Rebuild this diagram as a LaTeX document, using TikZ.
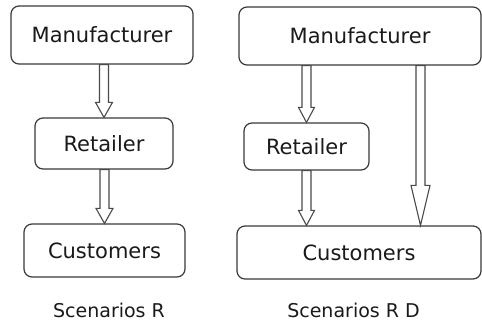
\documentclass[tikz,border=0pt]{standalone}
\usepackage{fontspec}
\setmainfont{DejaVu Sans}
\usetikzlibrary{calc}
\definecolor{boxline}{HTML}{3A3A3A}
\definecolor{arrline}{HTML}{4A4A4A}
\definecolor{txt}{HTML}{1A1A1A}
\begin{document}
\begin{tikzpicture}[x=1pt,y=-1pt,
  box/.style={draw=boxline,line width=1.2pt,rounded corners=8pt,fill=white,
    inner sep=0pt,text=txt,font=\fontsize{21}{24}\selectfont},
  caption/.style={inner sep=0pt,text=txt,font=\fontsize{19}{22}\selectfont},
  harrow/.style n args={3}{draw=arrline,line width=1.1pt,fill=white,line join=miter,
    to path={let \p1=(\tikztostart),\p2=(\tikztotarget) in
      (\x2-#1,\y1) -- (\x2-#1,\y2+#3) -- (\x2-#2,\y2+#3) -- (\x2,\y2)
      -- (\x2+#2,\y2+#3) -- (\x2+#1,\y2+#3) -- (\x2+#1,\y1) -- cycle}}]
\useasboundingbox (0,0) rectangle (482,325);
\fill[white] (0,0) rectangle (482,325);
% left scenario
\node[box,minimum width=182pt,minimum height=58pt] (m1) at (102,35) {Manufacturer};
\node[box,minimum width=138pt,minimum height=51pt] (r1) at (104,143.5) {Retailer};
\node[box,minimum width=161pt,minimum height=53pt] (c1) at (104.5,250.5) {Customers};
\node[caption] (s1) at (109,310) {Scenarios R};
% right scenario
\node[box,minimum width=242pt,minimum height=58pt] (m2) at (360,36) {Manufacturer};
\node[box,minimum width=125pt,minimum height=47pt] (r2) at (306.5,146.5) {Retailer};
\node[box,minimum width=244pt,minimum height=53pt] (c2) at (359,252.5) {Customers};
\node[caption] (s2) at (353.5,310) {Scenarios R D};
% arrows
\draw[harrow={4.5pt}{8.5pt}{15pt}] (m1.south) to (r1.north);
\draw[harrow={4.5pt}{8.5pt}{15pt}] (r1.south) to (c1.north);
\draw[harrow={4.5pt}{8pt}{15pt}] (r2.north |- m2.south) to (r2.north);
\draw[harrow={4.5pt}{8pt}{15pt}] (r2.south) to (r2.south |- c2.north);
\draw[harrow={4.5pt}{9.5pt}{40pt}] ([xshift=60.5pt]m2.south) to ([xshift=61.5pt]c2.north);
\end{tikzpicture}
\end{document}
